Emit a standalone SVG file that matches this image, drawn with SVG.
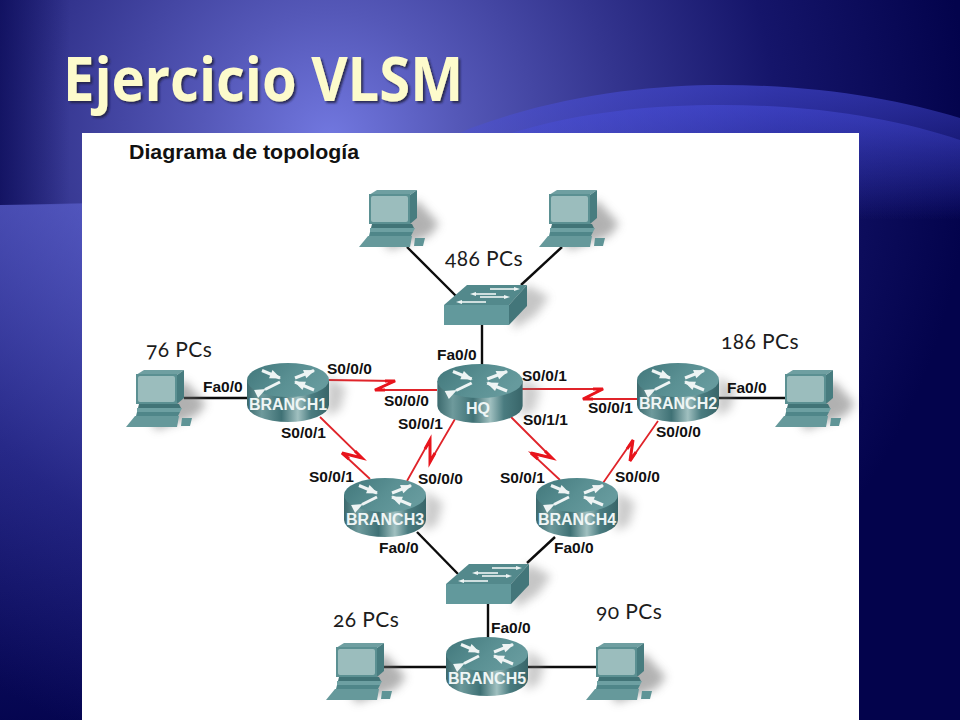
<svg xmlns="http://www.w3.org/2000/svg" xmlns:xlink="http://www.w3.org/1999/xlink" width="960" height="720" viewBox="0 0 960 720">
<style>
.if{font:bold 15.5px "Liberation Sans",Arial,sans-serif;fill:#111}
.rl{font:bold 16px "Liberation Sans",Arial,sans-serif;fill:#eef5f5;text-anchor:middle}
.pcs{font:21px "Lato","Open Sans",sans-serif;font-variant-numeric:oldstyle-nums;fill:#1c1c1c;letter-spacing:.4px}
.eth{stroke:#0c0c0c;stroke-width:2.4;fill:none}
.ser{stroke:#e0242a;stroke-width:1.8;fill:none;stroke-linejoin:miter}
.zig{stroke:#e8141c;stroke-width:3;fill:none;stroke-linejoin:miter}
</style>
<defs>
<radialGradient id="bg" gradientUnits="userSpaceOnUse" cx="330" cy="140" r="640">
<stop offset="0" stop-color="#7278e0"/><stop offset=".2" stop-color="#5558b8"/><stop offset=".45" stop-color="#34358f"/><stop offset=".7" stop-color="#15156a"/><stop offset="1" stop-color="#03034c"/>
</radialGradient>
<linearGradient id="edge" x1="0" x2="1" y1="0" y2="0"><stop offset="0" stop-color="#04044e" stop-opacity=".6"/><stop offset="1" stop-color="#04044e" stop-opacity="0"/></linearGradient>
<linearGradient id="band" gradientUnits="userSpaceOnUse" x1="0" x2="0" y1="85" y2="220"><stop offset="0" stop-color="#4a50e0" stop-opacity=".55"/><stop offset=".5" stop-color="#4a50e0" stop-opacity=".25"/><stop offset="1" stop-color="#4a50e0" stop-opacity="0"/></linearGradient>
<linearGradient id="left" gradientUnits="userSpaceOnUse" x1="0" x2="0" y1="205" y2="720"><stop offset="0" stop-color="#7078f0" stop-opacity=".42"/><stop offset="1" stop-color="#5058e0" stop-opacity=".03"/></linearGradient>
<linearGradient id="rt" x1="0" x2="1" y1="0" y2=".4"><stop offset="0" stop-color="#41777b"/><stop offset=".6" stop-color="#5a9093"/><stop offset="1" stop-color="#669a9d"/></linearGradient>
<linearGradient id="rb" x1="0" x2="1" y1="0" y2="0"><stop offset="0" stop-color="#3b696d"/><stop offset=".18" stop-color="#6e9a9c"/><stop offset=".42" stop-color="#3f7175"/><stop offset=".62" stop-color="#a0c0c0"/><stop offset=".78" stop-color="#4a7c80"/><stop offset="1" stop-color="#386569"/></linearGradient>
<filter id="blur" x="-60%" y="-60%" width="220%" height="220%"><feGaussianBlur stdDeviation="5"/></filter>
<filter id="ts" x="-5%" y="-10%" width="110%" height="125%"><feDropShadow dx="2" dy="2" stdDeviation=".8" flood-color="#1a1a40" flood-opacity=".85"/></filter>
<marker id="ah" markerUnits="userSpaceOnUse" markerWidth="12" markerHeight="10" refX="1" refY="5" orient="auto"><path d="M11,0.5 L0,5 L11,9.5Z" fill="#eef4f4"/></marker>
<g id="router">
<path d="M40,-4 L58,8 L52,30 L38,36Z" fill="#777" opacity=".38" filter="url(#blur)"/>
<path d="M-41,0 V25 A41,17 0 0 0 41,25 V0Z" fill="url(#rb)"/>
<ellipse rx="41" ry="17" fill="url(#rt)"/>
<g stroke="#eef4f4" stroke-width="3" fill="none">
<line x1="-8" y1="-2" x2="-26" y2="-9.500" marker-start="url(#ah)"/>
<line x1="26" y1="-9.500" x2="7" y2="-2" marker-start="url(#ah)"/>
<line x1="-8" y1="2" x2="-23" y2="9.500" marker-end="url(#ah)"/>
<line x1="7" y1="2" x2="26" y2="10" marker-start="url(#ah)"/>
</g>
</g>
<g id="pc">
<path d="M48,10 L70,34 L60,46 L20,60 L10,40Z" fill="#666" opacity=".5" filter="url(#blur)"/>
<path d="M0,5 L8,0 H48 L41,5Z" fill="#6f9fa1"/>
<rect x="0" y="4" width="41" height="30" fill="#5b9092"/>
<path d="M41,5 L48,0 V28 L41,34Z" fill="#477c7f"/>
<rect x="2" y="6" width="37" height="26" rx="2" fill="#9bbdbd"/>
<path d="M3,34 H43 L45,38 H2Z" fill="#417477"/>
<path d="M1,38 H46 L44,42 H1Z" fill="#6da0a2"/>
<path d="M1,42 H44 L42,46 H0Z" fill="#4f8689"/>
<path d="M-1,46 H43 L41,57 H-10Z" fill="#66999b"/>
<path d="M46,48 H56 L54,56 H45Z" fill="#5f9496"/>
</g>
<g id="sw">
<path d="M65,20 L83,0 L105,12 L92,30 L70,44Z" fill="#777" opacity=".42" filter="url(#blur)"/>
<path d="M0,20 L23,0 H83 L65,20Z" fill="#53898c"/>
<rect y="20" width="65" height="20" fill="#62999c"/>
<path d="M65,20 L83,0 V21 L65,40Z" fill="#43767a"/>
<g stroke="#eef4f4" stroke-width="1.6">
<line x1="46" y1="4" x2="72" y2="4"/><line x1="30" y1="9" x2="52" y2="9"/><line x1="36" y1="12" x2="62" y2="12"/><line x1="16" y1="17" x2="42" y2="17"/>
</g>
<g fill="#eef4f4"><path d="M76,4 L70,2 V6Z"/><path d="M26,9 L32,7 V11Z"/><path d="M66,12 L60,10 V14Z"/><path d="M12,17 L18,15 V19Z"/></g>
</g>
</defs>
<g id="background">
<rect width="960" height="720" fill="url(#bg)"/>
<rect width="70" height="205" fill="url(#edge)"/>
<path d="M380,160 C420,150 450,138 471,128 C560,95 650,85 722,85 C820,85 900,100 960,118 V300 H380Z" fill="url(#band)"/>
<path d="M490,140 C570,112 650,105 722,105 C820,105 900,120 960,140 V300 H490Z" fill="url(#band)"/>
<path d="M0,205 L100,203 V720 H0Z" fill="url(#left)"/>
</g>
<text x="63" y="101" font-family="Open Sans,Lato,sans-serif" font-weight="700" font-size="60" fill="#fdfbcc" textLength="400" lengthAdjust="spacingAndGlyphs" filter="url(#ts)">Ejercicio VLSM</text>
<rect x="82" y="133" width="777" height="587" fill="#fff"/>
<text x="129" y="159" font-family="Liberation Sans,Arial,sans-serif" font-weight="700" font-size="20" fill="#111" textLength="230" lengthAdjust="spacingAndGlyphs">Diagrama de topología</text>
<g id="connectors">
<path class="eth" d="M407,247 L456,296"/><path class="eth" d="M562,247 L521,285"/><path class="eth" d="M482,325 V366"/>
<path class="eth" d="M184,398 H250"/><path class="eth" d="M717,398 H785"/>
<path class="eth" d="M417,532 L458,574"/><path class="eth" d="M555,537 L527,563"/>
<path class="eth" d="M488,603 V640"/><path class="eth" d="M383,667 H448"/><path class="eth" d="M525,667 H596"/>
<path class="ser" d="M328,380 L395,381 L375,390 L437,390"/><path class="zig" d="M385,381 H395 L375,390 H385"/>
<path class="ser" d="M320,417 L362,458 L342,453 L370,479"/><path class="zig" d="M355,451 L362,458 L342,453 L349,459"/>
<path class="ser" d="M455,419 L430,462 L430,440 L407,481"/><path class="zig" d="M435,453 L430,462 L430,440 L425,449"/>
<path class="ser" d="M519,389 L603,389 L583,399 L637,399"/><path class="zig" d="M593,389 H603 L583,399 H593"/>
<path class="ser" d="M511,417 L552,458 L531,453 L560,480"/><path class="zig" d="M545,451 L552,458 L531,453 L538,459"/>
<path class="ser" d="M658,421 L630,461 L633,440 L603,483"/><path class="zig" d="M636,452 L630,461 L633,440 L627,449"/>
</g>
<g id="pc-top-left"><use href="#pc" x="369" y="190"/></g>
<g id="pc-top-right"><use href="#pc" x="549" y="190"/></g>
<g id="pc-left"><use href="#pc" x="136" y="370"/></g>
<g id="pc-right"><use href="#pc" x="785" y="370"/></g>
<g id="pc-bottom-left"><use href="#pc" x="336" y="643"/></g>
<g id="pc-bottom-right"><use href="#pc" x="596" y="643"/></g>
<g id="switch-top"><use href="#sw" x="444" y="285"/></g>
<g id="switch-bottom"><use href="#sw" x="446" y="564"/></g>
<g id="BRANCH1"><use href="#router" x="288" y="380"/><text class="rl" x="288" y="410">BRANCH1</text></g>
<g id="HQ"><use href="#router" transform="translate(480,381) scale(1.04,1)"/><text class="rl" x="478" y="414">HQ</text></g>
<g id="BRANCH2"><use href="#router" x="678" y="380"/><text class="rl" x="678" y="409">BRANCH2</text></g>
<g id="BRANCH3"><use href="#router" x="385" y="495"/><text class="rl" x="385" y="525">BRANCH3</text></g>
<g id="BRANCH4"><use href="#router" x="577" y="495"/><text class="rl" x="577" y="525">BRANCH4</text></g>
<g id="BRANCH5"><use href="#router" x="487" y="654"/><text class="rl" x="487" y="684">BRANCH5</text></g>
<g id="interface-labels">
<text class="if" x="203" y="392">Fa0/0</text>
<text class="if" x="327" y="374">S0/0/0</text>
<text class="if" x="384" y="406">S0/0/0</text>
<text class="if" x="437" y="360">Fa0/0</text>
<text class="if" x="398" y="429">S0/0/1</text>
<text class="if" x="281" y="438">S0/0/1</text>
<text class="if" x="309" y="482">S0/0/1</text>
<text class="if" x="418" y="484">S0/0/0</text>
<text class="if" x="522" y="381">S0/0/1</text>
<text class="if" x="588" y="413">S0/0/1</text>
<text class="if" x="523" y="425">S0/1/1</text>
<text class="if" x="656" y="437">S0/0/0</text>
<text class="if" x="615" y="482">S0/0/0</text>
<text class="if" x="500" y="483">S0/0/1</text>
<text class="if" x="727" y="393">Fa0/0</text>
<text class="if" x="379" y="553">Fa0/0</text>
<text class="if" x="554" y="553">Fa0/0</text>
<text class="if" x="491" y="633">Fa0/0</text>
</g>
<g id="pc-counts">
<text class="pcs" x="445" y="266">486 PCs</text>
<text class="pcs" x="146" y="357">76 PCs</text>
<text class="pcs" x="721" y="349">186 PCs</text>
<text class="pcs" x="333" y="627">26 PCs</text>
<text class="pcs" x="596" y="619">90 PCs</text>
</g>
</svg>
